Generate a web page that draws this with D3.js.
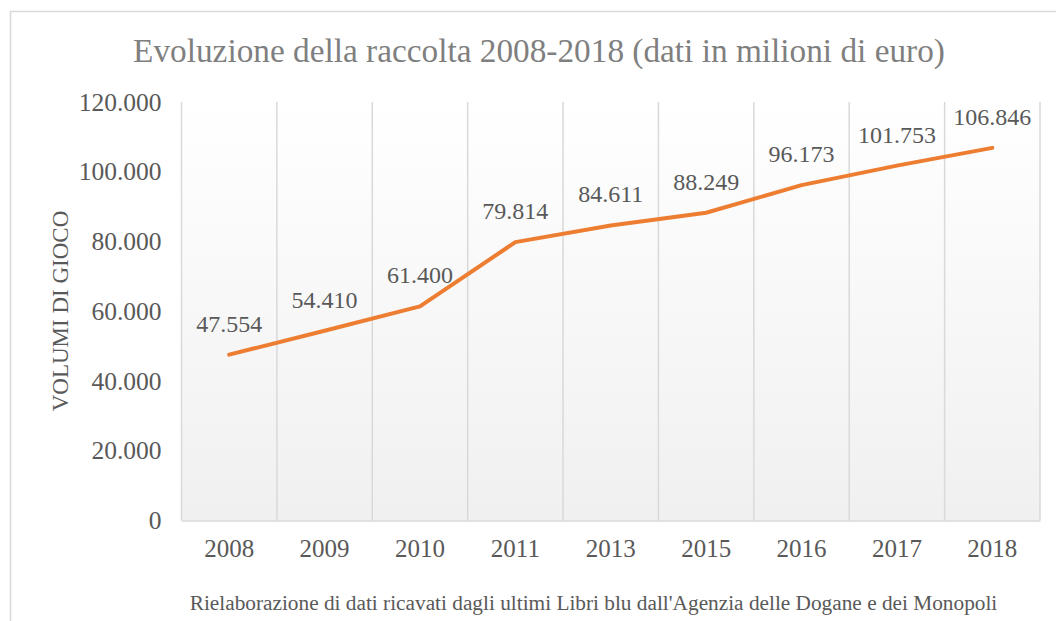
<!DOCTYPE html>
<html>
<head>
<meta charset="utf-8">
<script src="https://cdn.jsdelivr.net/npm/d3@7"></script>
<style>
  html, body { margin: 0; padding: 0; background: #fff; }
  svg { display: block; }
</style>
</head>
<body>
<svg id="chart" width="1056" height="621"></svg>
<script>
// Gaming volumes by year (millions of euro)
const years = ["2008", "2009", "2010", "2011", "2013", "2015", "2016", "2017", "2018"];
const volumes = [47554, 54410, 61400, 79814, 84611, 88249, 96173, 101753, 106846];
const yTicks = [0, 20000, 40000, 60000, 80000, 100000, 120000];

const titleText = "Evoluzione della raccolta 2008-2018 (dati in milioni di euro)";
const yAxisTitle = "VOLUMI DI GIOCO";
const sourceText = "Rielaborazione di dati ricavati dagli ultimi Libri blu dall'Agenzia delle Dogane e dei Monopoli";

const W = 1056, H = 621;
const FONT = "Liberation Serif, Times New Roman, serif";
const plot = { left: 181.5, right: 1040, top: 102, bottom: 520.5 };

const svg = d3.select("#chart").attr("font-family", FONT);
const fmt = d3.formatLocale({ decimal: ",", thousands: ".", grouping: [3], currency: ["€", ""] }).format(",d");

// chart frame
svg.append("rect")
  .attr("x", 10.5).attr("y", 11.5)
  .attr("width", W + 20).attr("height", H + 20)
  .attr("fill", "#fff").attr("stroke", "#d9d9d9").attr("stroke-width", 1.5);

// plot background gradient
const defs = svg.append("defs");
const grad = defs.append("linearGradient").attr("id", "plotBg")
  .attr("x1", 0).attr("y1", 0).attr("x2", 0).attr("y2", 1);
grad.append("stop").attr("offset", "0%").attr("stop-color", "#ffffff");
grad.append("stop").attr("offset", "100%").attr("stop-color", "#f0f0f0");

const x = d3.scaleBand().domain(years).range([plot.left, plot.right]).padding(0);
const y = d3.scaleLinear().domain([0, 120000]).range([plot.bottom, plot.top]);

svg.append("rect")
  .attr("x", plot.left).attr("y", plot.top)
  .attr("width", plot.right - plot.left).attr("height", plot.bottom - plot.top)
  .attr("fill", "url(#plotBg)");

// vertical gridlines at category boundaries
const bounds = years.map(d => x(d)).concat([x(years[years.length - 1]) + x.bandwidth()]);
svg.append("g").selectAll("line").data(bounds).join("line")
  .attr("x1", d => d).attr("x2", d => d)
  .attr("y1", plot.top).attr("y2", plot.bottom)
  .attr("stroke", "#d9d9d9").attr("stroke-width", 1.5);

// category axis
const xAxis = svg.append("g")
  .attr("transform", `translate(0,${plot.bottom})`)
  .call(d3.axisBottom(x).tickSize(0).tickPadding(19));
xAxis.attr("font-family", FONT).attr("font-size", 25);
xAxis.select(".domain").attr("stroke", "#d9d9d9").attr("stroke-width", 1.5);
xAxis.selectAll("text").attr("fill", "#595959");

// value axis
const yAxis = svg.append("g")
  .attr("transform", `translate(${plot.left},0)`)
  .call(d3.axisLeft(y).tickValues(yTicks).tickSize(0).tickPadding(20).tickFormat(fmt));
yAxis.attr("font-family", FONT).attr("font-size", 25.5);
yAxis.select(".domain").remove();
yAxis.selectAll("text").attr("fill", "#595959");

// data line
const line = d3.line()
  .x((d, i) => x(years[i]) + x.bandwidth() / 2)
  .y(d => y(d));
svg.append("path")
  .datum(volumes)
  .attr("d", line)
  .attr("fill", "none")
  .attr("stroke", "#ed7d31")
  .attr("stroke-width", 4)
  .attr("stroke-linecap", "round")
  .attr("stroke-linejoin", "round");

// data labels
svg.append("g").attr("font-family", FONT).attr("font-size", 24)
  .selectAll("text").data(volumes).join("text")
  .attr("x", (d, i) => x(years[i]) + x.bandwidth() / 2)
  .attr("y", d => y(d) - 23)
  .attr("text-anchor", "middle")
  .attr("fill", "#595959")
  .text(d => fmt(d));

// title
svg.append("text")
  .attr("x", 539).attr("y", 62)
  .attr("text-anchor", "middle")
  .attr("fill", "#7f7f7f")
  .attr("font-size", 33.3)
  .text(titleText);

// axis title
svg.append("text")
  .attr("transform", "translate(68,311) rotate(-90)")
  .attr("text-anchor", "middle")
  .attr("fill", "#595959")
  .attr("font-size", 23)
  .text(yAxisTitle);

// source note
svg.append("text")
  .attr("x", 593.5).attr("y", 610)
  .attr("text-anchor", "middle")
  .attr("fill", "#595959")
  .attr("font-size", 21.3)
  .text(sourceText);
</script>
</body>
</html>
